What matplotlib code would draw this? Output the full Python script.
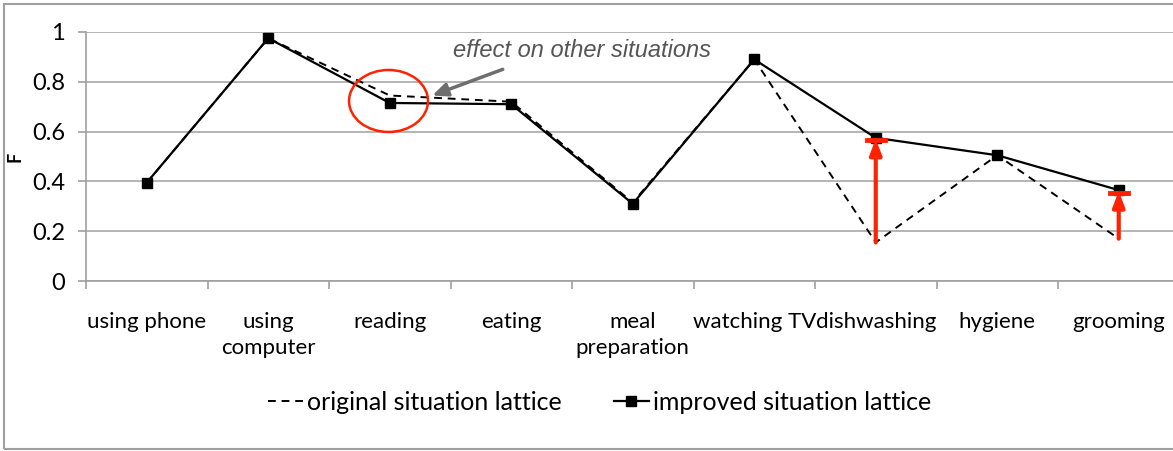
import matplotlib
matplotlib.use("Agg")
import matplotlib.pyplot as plt
from matplotlib.patches import Ellipse, Rectangle

situations = ["using phone", "using\ncomputer", "reading", "eating", "meal\npreparation",
              "watching TV", "dishwashing", "hygiene", "grooming"]
original = [0.395, 0.975, 0.745, 0.72, 0.315, 0.89, 0.155, 0.505, 0.17]
improved = [0.395, 0.975, 0.715, 0.71, 0.31, 0.89, 0.575, 0.505, 0.365]
yticks = [0, 0.2, 0.4, 0.6, 0.8, 1]
ytick_labels = ["0", "0.2", "0.4", "0.6", "0.8", "1"]
fixed = [6, 8]   # situations raised by the improvement

plt.rcParams['font.family'] = ['Lato', 'DejaVu Sans']

fig = plt.figure(figsize=(11.73, 4.51), dpi=100)
ax = fig.add_axes([86 / 1173, 170 / 451, 1093.5 / 1173, 249 / 451])

x = list(range(len(situations)))
ax.plot(x, original, color="black", linestyle=(0, (4, 3)), lw=1.4, clip_on=False,
        label="original situation lattice", zorder=3)
ax.plot(x, improved, color="black", lw=1.6, marker="s", markersize=7, clip_on=False,
        label="improved situation lattice", zorder=4)

ax.set_xlim(-0.5, len(situations) - 0.5)
ax.set_ylim(0, 1)
ax.set_yticks(yticks)
ax.set_yticklabels(ytick_labels, fontsize=17)
ax.set_xticks(x)
ax.set_xticklabels(situations, fontsize=16, linespacing=1.4)
ax.set_xticks([i - 0.5 for i in x], minor=True)
ax.tick_params(axis="x", which="major", length=0, pad=22)
ax.tick_params(axis="x", which="minor", length=6, color="#a0a0a0", width=1.2)
ax.tick_params(axis="y", length=6, color="#a0a0a0", width=1.2, pad=9)
ax.grid(axis="y", color="#a8a8a8", lw=1.2)
ax.set_axisbelow(True)
for s in ["top", "right"]:
    ax.spines[s].set_visible(False)
for s in ["left", "bottom"]:
    ax.spines[s].set_color("#a0a0a0")
    ax.spines[s].set_linewidth(1.2)
ax.set_ylabel("F", fontsize=13, fontweight="bold")
ax.yaxis.set_label_coords(-62 / 1093.5, 0.5)

# red arrows showing the improvement
for i in fixed:
    ax.annotate("", xy=(i, improved[i] - 0.005), xytext=(i, original[i]),
                arrowprops=dict(arrowstyle="-|>,head_length=0.9,head_width=0.35",
                                color="#ff2200", lw=3, shrinkA=0, shrinkB=0), zorder=5)
    ax.plot([i - 0.075, i + 0.075], [improved[i] - 0.01] * 2, color="#ff2200", lw=3.5, zorder=5)

# circle around the changed reading value
ax.add_patch(Ellipse((1.99, 0.723), 0.65, 0.249, fill=False, edgecolor="#ff2200", lw=1.8, zorder=5))
ax.annotate("", xy=(2.35, 0.745), xytext=(2.93, 0.85),
            arrowprops=dict(arrowstyle="-|>,head_length=0.9,head_width=0.4",
                            color="#6e6e6e", lw=2.5, shrinkA=0, shrinkB=0))
ax.text(3.58, 0.925, "effect on other situations", fontsize=17, style="italic",
        color="#555555", ha="center", va="center", family=["Liberation Sans"])

leg = ax.legend(loc="center", bbox_to_anchor=(0.511, 0.108), bbox_transform=fig.transFigure,
                ncol=2, frameon=False, fontsize=18, handlelength=1.4, handletextpad=0.15,
                columnspacing=2.1)

fig.patches.append(Rectangle((4 / 1173, 2 / 451), 1.2, 445 / 451, transform=fig.transFigure,
                             fill=False, edgecolor="#a0a0a0", lw=1.5))

fig.savefig("out.png", dpi=100, facecolor="white")
